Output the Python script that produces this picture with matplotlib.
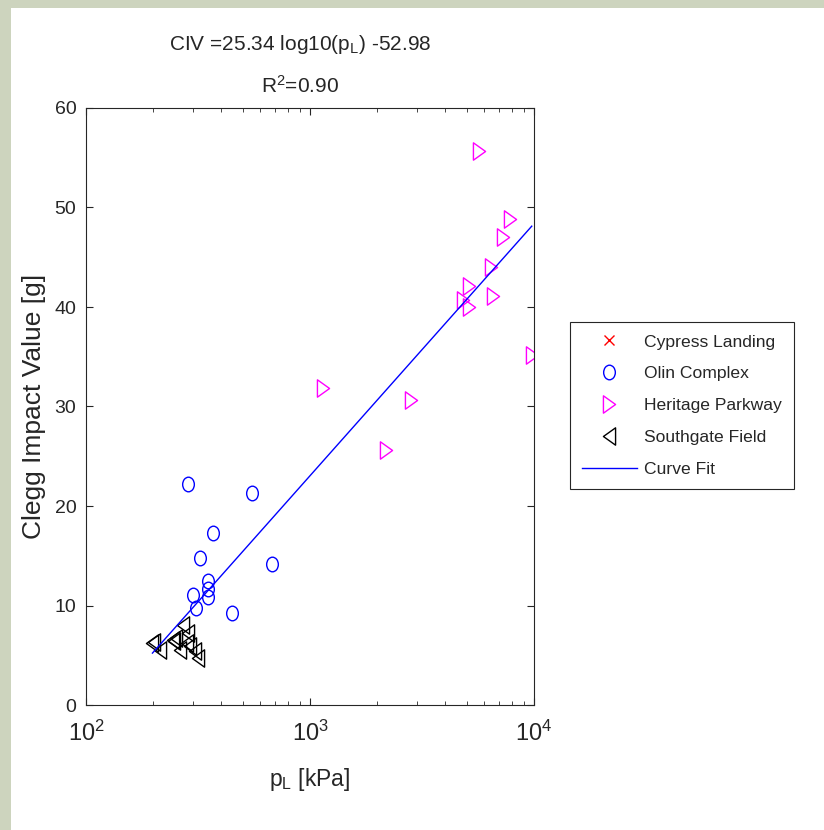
import numpy as np
import matplotlib
matplotlib.use('Agg')
import matplotlib.pyplot as plt
from matplotlib.path import Path
from matplotlib.patches import Rectangle

# 各场地数据：p_L [kPa] 与 Clegg 冲击值 [g]
cypress_pl = []
cypress_civ = []

olin_pl = [285, 551, 370, 324, 675, 349, 352, 350, 300, 311, 450]
olin_civ = [22.2, 21.3, 17.3, 14.8, 14.2, 12.5, 11.7, 10.9, 11.1, 9.7, 9.2]

heritage_pl = [5680, 7810, 7250, 6430, 5145, 4805, 5145, 6580, 9770, 2815, 2185, 1143]
heritage_civ = [55.7, 48.8, 47.0, 44.0, 42.1, 40.7, 40.0, 41.1, 35.2, 30.7, 25.6, 31.9]

southgate_pl = [198, 201, 215, 245, 247, 252, 272, 286, 282, 291, 307, 317, 263]
southgate_civ = [6.2, 6.3, 5.5, 6.5, 6.4, 6.7, 8.0, 7.2, 6.2, 5.9, 5.4, 4.7, 5.5]

# 拟合结果 CIV = a*log10(p_L) + b
fit_a = 25.34
fit_b = -52.98
r2 = 0.90

font = 'Liberation Sans'
plt.rcParams['font.family'] = [font, 'DejaVu Sans']
plt.rcParams['mathtext.fontset'] = 'custom'
plt.rcParams['mathtext.rm'] = font
plt.rcParams['mathtext.it'] = font
plt.rcParams['mathtext.default'] = 'regular'
ink = '#262626'

# 压扁的圆和三角形标记
circ = Path.unit_circle()
m_circle = Path(circ.vertices * [0.8, 1.0], circ.codes)
m_right = Path([(-0.7, 1), (0.7, 0), (-0.7, -1), (-0.7, 1)], closed=True)
m_left = Path([(0.7, 1), (-0.7, 0), (0.7, -1), (0.7, 1)], closed=True)

fig = plt.figure(figsize=(8.24, 8.30), dpi=100)
fig.patch.set_facecolor('#CDD4BE')
fig.patches.append(Rectangle((11 / 824, 0), 1, 1 - 8 / 830, transform=fig.transFigure,
                             facecolor='white', edgecolor='none', zorder=-10))

ax = fig.add_axes([86 / 824, 1 - 705 / 830, 448 / 824, 597 / 830])

ax.plot(cypress_pl, cypress_civ, ls='none', marker='x', color='red', ms=7, mew=1,
        label='Cypress Landing')
ax.plot(olin_pl, olin_civ, ls='none', marker=m_circle, mfc='none', mec='blue', ms=10.5, mew=1,
        label='Olin Complex')
ax.plot(heritage_pl, heritage_civ, ls='none', marker=m_right, mfc='none', mec='#FF00FF', ms=12.5, mew=1,
        label='Heritage Parkway')
ax.plot(southgate_pl, southgate_civ, ls='none', marker=m_left, mfc='none', mec='black', ms=12.5, mew=1,
        label='Southgate Field')

all_pl = np.array(olin_pl + heritage_pl + southgate_pl, dtype=float)
p_fit = np.logspace(np.log10(all_pl.min()), np.log10(all_pl.max()), 100)
ax.plot(p_fit, fit_a * np.log10(p_fit) + fit_b, color='blue', lw=1, label='Curve Fit')

ax.set_xscale('log')
ax.set_xlim(100, 10000)
ax.set_ylim(0, 60)
ax.set_yticks(range(0, 61, 10))
for s in ax.spines.values():
    s.set_color(ink)
    s.set_linewidth(0.8)
ax.tick_params(which='both', direction='in', top=True, right=True, color=ink, labelcolor=ink)
ax.tick_params(which='major', length=5, width=0.8)
ax.tick_params(which='minor', length=3, width=0.6)
ax.tick_params(axis='x', which='major', labelsize=17, pad=11)
ax.tick_params(axis='y', labelsize=14, pad=7)

ax.set_xlabel(r'p$_{\rm L}$ [kPa]', fontsize=16.5, color=ink)
ax.xaxis.set_label_coords(0.5, (705 - 766) / 597)
ax.set_ylabel('Clegg Impact Value [g]', fontsize=19, color=ink)
ax.yaxis.set_label_coords((46 - 86) / 448, 0.5)

fig.text(300 / 824, 1 - 50 / 830, r'CIV =%.2f log10(p$_{\rm L}$) -%.2f' % (fit_a, -fit_b),
         ha='center', va='baseline', fontsize=15, color=ink)
fig.text(300 / 824, 1 - 93 / 830, r'R$^{2}$=%.2f' % r2,
         ha='center', va='baseline', fontsize=15, color=ink)

leg = ax.legend(loc='upper left', bbox_to_anchor=(570 / 824, 1 - 322 / 830),
                bbox_transform=fig.transFigure, borderaxespad=0, fontsize=12.6,
                labelspacing=0.95, handlelength=3.1, handletextpad=0.4, borderpad=0.7,
                fancybox=False, framealpha=1)
leg.get_frame().set_edgecolor(ink)
leg.get_frame().set_linewidth(0.8)
for t in leg.get_texts():
    t.set_color(ink)

plt.savefig('out.png', dpi=100)
